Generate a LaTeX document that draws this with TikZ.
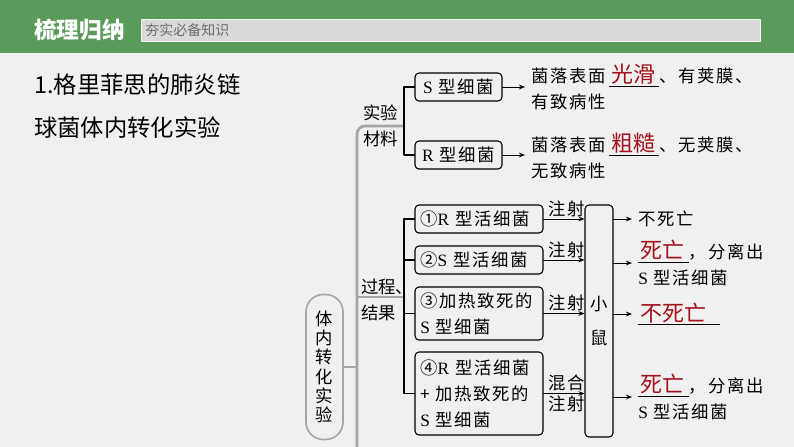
\documentclass[tikz,border=0pt]{standalone}
\usepackage{fontspec}
\usepackage{xcolor}
\usepackage{tikz}
\usetikzlibrary{arrows.meta,positioning,calc}
\setmainfont{Noto Sans CJK SC}
\newfontfamily\cjk[LetterSpace=10]{Noto Sans CJK SC}
\newfontfamily\lat{Liberation Serif}
\definecolor{bargreen}{HTML}{5A9B5C}
\definecolor{pagebg}{HTML}{F0F0F0}
\definecolor{tagbg}{HTML}{D9D9D9}
\definecolor{taggray}{HTML}{6E6E6E}
\definecolor{trunkgray}{HTML}{A6A6A6}
\definecolor{ansred}{HTML}{A3111B}
\newcommand{\ans}[2][3pt]{\underline{\hspace{2pt}\textcolor{ansred}{\rmfamily\fontsize{16.5}{16.5}\selectfont #2}\hspace{#1}}}
\tikzset{
    every picture/.style={line cap=round,line join=round},
    headtitle/.style={text=white,font=\bfseries\fontsize{17}{20}\selectfont,inner sep=0pt},
    tagbox/.style={fill=tagbg,draw=white!70!tagbg,line width=0.6pt,minimum height=15.75pt,
      text width=458pt,inner xsep=3pt,align=left,text=taggray,font=\fontsize{10.5}{12}\selectfont},
    bigtitle/.style={font=\fontsize{17.5}{20}\selectfont,inner sep=0pt},
    note/.style={font=\cjk\fontsize{13}{19}\selectfont,align=left,inner xsep=4.5pt,inner ysep=1pt},
    arrowtag/.style={note,inner xsep=0pt,inner ysep=1.5pt},
    sidelabel/.style={font=\fontsize{13}{19}\selectfont,anchor=west,inner sep=0pt},
    kindbox/.style={draw=black,line width=0.8pt,rounded corners=3pt,minimum width=65.25pt,
      minimum height=21pt,inner sep=2pt,font=\cjk\fontsize{13}{19}\selectfont,align=center},
    stepbox/.style={draw=black,line width=0.8pt,rounded corners=3pt,text width=88pt,
      minimum height=21pt,inner xsep=4pt,inner ysep=1pt,font=\cjk\fontsize{13}{19.5}\selectfont,align=left},
    mousebox/.style={draw=black,line width=0.8pt,rounded corners=3pt,minimum width=21pt,
      minimum height=174pt,inner sep=0pt,font=\cjk\fontsize{13}{26}\selectfont,align=center},
    rootbox/.style={draw=trunkgray,line width=1.2pt,rounded corners=13pt,minimum width=27.75pt,
      minimum height=108.75pt,inner sep=0pt,font=\fontsize{13}{14.5}\selectfont,align=center},
    trunk/.style={draw=trunkgray,line width=2pt},
    branch/.style={draw=black,line width=0.8pt},
    flowarrow/.style={-{Stealth[length=4.5pt,width=3.5pt]},draw=black,line width=0.7pt}
}
\begin{document}
\begin{tikzpicture}[x=0.75pt,y=-0.75pt]
  \useasboundingbox (0,0) rectangle (794,447);
  \fill[pagebg] (0,0) rectangle (794,447);
  \fill[bargreen] (0,0) rectangle (794,53);
  \node[headtitle,anchor=west] (head) at (34,30) {梳理归纳};
  \node[tagbox,anchor=west] (tag) at (141,30.5) {夯实必备知识};
  \node[bigtitle,anchor=west] (t1) at (34,85) {1.格里菲思的肺炎链};
  \node[bigtitle,anchor=west] (t2) at (34,128) {球菌体内转化实验};

  \node[rootbox] (invivo) at (324.5,367) {体\\内\\转\\化\\实\\验};
  \coordinate (matj) at (404,126);
  \coordinate (procj) at (404,297);
  \coordinate (trunk) at (357,447);
  \draw[trunk,rounded corners=6pt] (trunk) |- (matj);
  \draw[trunk] (invivo.east) -- (invivo.east -| trunk);
  \draw[trunk] (trunk |- procj) -- (procj);
  \node[sidelabel] (lab1) at (363,113) {实验};
  \node[sidelabel] (lab2) at (363,139) {材料};
  \node[sidelabel] (lab3) at (361,287) {过程、};
  \node[sidelabel] (lab4) at (361,313) {结果};

  \node[kindbox] (sbac) at (458.5,87) {{\lat S} 型细菌};
  \node[kindbox] (rbac) at (458.5,155) {{\lat R} 型细菌};
  \draw[branch] (sbac.west) -| (matj) |- (rbac.west);
  \node[note,anchor=west] (sdesc) at (525,87) {菌落表面\,\ans{光滑}、有荚膜、\\有致病性};
  \node[note,anchor=west] (rdesc) at (525,156) {菌落表面\,\ans{粗糙}、无荚膜、\\无致病性};
  \draw[flowarrow] (sbac.east) -- (sdesc.west);
  \draw[flowarrow] (rbac.east) -- (rbac.east -| rdesc.west);

  \node[stepbox] (b1) at (479,219) {①{\lat R} 型活细菌};
  \node[stepbox] (b2) at (479,260) {②{\lat S} 型活细菌};
  \node[stepbox,minimum height=39.75pt] (b3) at (479,313.5) {③加热致死的\\{\lat S} 型细菌};
  \node[stepbox,minimum height=62.25pt] (b4) at (479,393.5) {④{\lat R} 型活细菌\\+ 加热致死的\\{\lat S} 型细菌};
  \draw[branch] (b1.west) -| (procj) |- (b4.west);
  \foreach \b in {b2,b3}{\draw[branch] (\b.west) -- (\b.west -| procj);}
  \node[mousebox] (mouse) at (599,321) {小\\鼠};
  \foreach \b in {b1,b2,b3}{\draw[flowarrow] (\b.east) -- node[arrowtag,above,xshift=2pt]{注射} (\b.east -| mouse.west);}
  \draw[flowarrow] (b4.east) -- node[arrowtag,above,xshift=2pt]{混合} node[arrowtag,below,xshift=2pt]{注射} (b4.east -| mouse.west);

  \node[note,anchor=west] (res1) at (632,219) {不死亡};
  \node[note,anchor=west] (res2) at (632,263) {\ans{死亡}，分离出\\{\lat S} 型活细菌};
  \node[note,anchor=west] (res3) at (632,314) {\ans[10pt]{不死亡}};
  \node[note,anchor=west] (res4) at (632,397) {\ans{死亡}，分离出\\{\lat S} 型活细菌};
  \foreach \res in {res1,res2,res3,res4}{\draw[flowarrow] (mouse.east |- \res.west) -- (\res.west);}
\end{tikzpicture}
\end{document}
